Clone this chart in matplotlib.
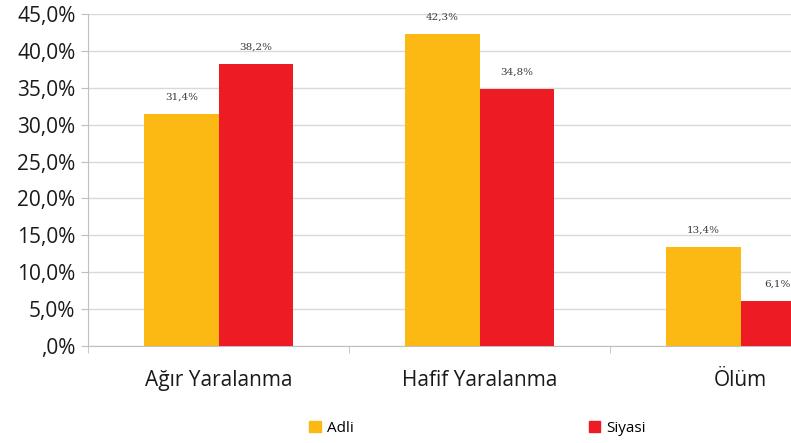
import numpy as np
import matplotlib.pyplot as plt
from matplotlib.ticker import FuncFormatter, FixedLocator
from matplotlib.patches import Patch

categories = ["Ağır Yaralanma", "Hafif Yaralanma", "Ölüm"]
adli = [31.4, 42.3, 13.4]
siyasi = [38.2, 34.8, 6.1]
series_names = ["Adli", "Siyasi"]
colors = ["#FDB913", "#ED1C24"]

plt.rcParams['font.family'] = ['Open Sans', 'DejaVu Sans']

fig = plt.figure(figsize=(7.91, 4.43), dpi=100)
# plot area runs past the right edge, the last group is cut off
ax = fig.add_axes([88 / 791, 1 - 346 / 443, 783 / 791, 332 / 443])

x = np.arange(len(categories))
w = 0.285
b1 = ax.bar(x - w / 2, adli, w, color=colors[0], zorder=3)
b2 = ax.bar(x + w / 2, siyasi, w, color=colors[1], zorder=3)

for bars, vals in [(b1, adli), (b2, siyasi)]:
    for r, v in zip(bars, vals):
        ax.annotate(f"{v:.1f}%".replace(".", ","),
                    (r.get_x() + r.get_width() / 2, v),
                    xytext=(0, 9), textcoords="offset points",
                    ha="center", va="bottom", fontsize=7.5, color="#3a3a3a",
                    family="DejaVu Serif")

ax.set_xlim(-0.5, 2.5)
ax.set_ylim(0, 45)
ax.set_yticks(np.arange(0, 46, 5))
ax.yaxis.set_major_formatter(FuncFormatter(
    lambda v, p: ",0%" if v == 0 else f"{v:.1f}%".replace(".", ",")))
ax.grid(axis="y", color="#d9d9d9", lw=1, zorder=0)

ax.set_xticks(x)
ax.set_xticklabels(categories)
ax.xaxis.set_minor_locator(FixedLocator([-0.5, 0.5, 1.5]))
ax.tick_params(axis="x", which="major", length=0, pad=17, labelsize=15, labelcolor="#1a1a1a")
ax.tick_params(axis="x", which="minor", length=5, color="#bfbfbf")
ax.tick_params(axis="y", length=5, color="#bfbfbf", labelsize=15, labelcolor="#1a1a1a", pad=4)

for s in ["top", "right"]:
    ax.spines[s].set_visible(False)
ax.spines["left"].set_color("#bfbfbf")
ax.spines["bottom"].set_color("#bfbfbf")

handles = [Patch(color=c) for c in colors]
fig.legend(handles, series_names, loc="center", bbox_to_anchor=(0.604, 1 - 428 / 443),
           ncol=2, frameon=False, fontsize=11, handlelength=0.75, handleheight=0.75,
           handletextpad=0.4, columnspacing=15.4)

fig.savefig("out.png", dpi=100)
